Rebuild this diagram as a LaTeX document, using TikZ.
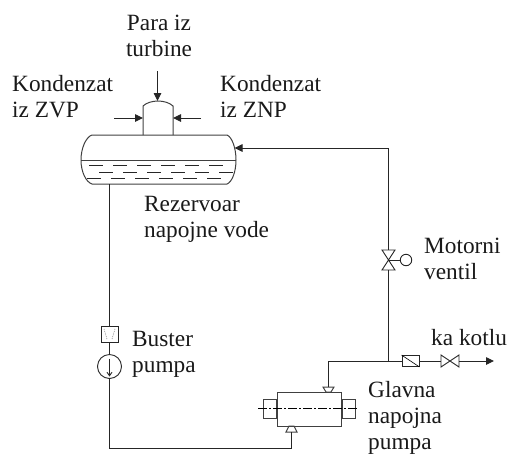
\documentclass[tikz,border=0pt]{standalone}
\usepackage{fontspec}
\setmainfont{Liberation Serif}
\usetikzlibrary{arrows.meta}
\tikzset{
 pipe/.style={line width=0.9pt,black!85},
 flow/.style={pipe,-{Triangle[length=8pt,width=7.5pt]}},
 shell/.style={line width=1pt,black!75},
 water/.style={line width=0.8pt,black!85,dash pattern=on 14pt off 10pt},
 lbl/.style={font=\fontsize{23.3pt}{26pt}\selectfont,align=left,anchor=north west,inner sep=0pt,text=black!90,execute at begin node={\rule{0pt}{17pt}}},
 clbl/.style={lbl,align=center,anchor=north},
}
\begin{document}
\begin{tikzpicture}[x=1pt,y=-1pt]
\useasboundingbox (0,0) rectangle (508,453);
% tank
\draw[shell] (92,135) -- (227,135) .. controls (232,137) and (236,148) .. (236,160) .. controls (236,172) and (232,182) .. (227,184) -- (92,184) .. controls (86,182) and (81,172) .. (81,160) .. controls (81,148) and (86,137) .. (92,135) -- cycle;
\draw[shell] (81,160) -- (236,160);
\draw[water] (89,165) -- (224,165);
\draw[water] (99,172) -- (234,172);
\draw[water] (87,178) -- (222,178);
% dome
\draw[shell] (143,135) -- (143,106) .. controls (146,103) and (152,101) .. (158,101) .. controls (164,101) and (170,103) .. (173,106) -- (173,135);
\coordinate (domeT) at (157.5,101);
\coordinate (domeL) at (143,118);
\coordinate (domeR) at (173,118);
\coordinate (inT) at (157.5,71);
\coordinate (inL) at (114,118);
\coordinate (inR) at (201,118);
\draw[flow] (inT) -- (domeT);
\draw[flow] (inL) -- (domeL);
\draw[flow] (inR) -- (domeR);
% left line
\node[draw,pipe,minimum width=17pt,minimum height=16pt,inner sep=0pt,fill=white] (filt) at (109.5,334) {};
\draw[pipe,densely dotted,line width=0.5pt,black!60] (104,329) -- (107,339) (115,329) -- (112,339);
\node[circle,draw,pipe,minimum size=24pt,inner sep=0pt] (bp) at (109.5,366.5) {};
\coordinate (tankB) at (109.5,184);
\draw[pipe] (tankB) -- (filt.north);
\draw[pipe] (filt.south) -- (bp.north);
\draw[pipe,-{Straight Barb[length=3.5pt,width=5pt]}] (bp.center)++(0,-8) -- ++(0,18);
% main pump
\node[draw,shell,minimum width=64pt,minimum height=34pt,inner sep=0pt] (gp) at (309,409) {};
\node[draw,shell,minimum width=13pt,minimum height=19pt,inner sep=0pt,anchor=east] (gl) at (gp.west) {};
\node[draw,shell,minimum width=13pt,minimum height=19pt,inner sep=0pt,anchor=west] (gr) at (gp.east) {};
\draw[line width=0.7pt,dash pattern=on 9pt off 2pt on 2pt off 2pt] (258,408) -- (358,408);
% suction
\coordinate (sIn) at (291.5,432);
\draw[shell] (286,432) -- (297,432) -- (294,426) -- (289,426) -- cycle;
\coordinate (c1) at (109.5,448);
\coordinate (c2) at (291.5,448);
\draw[pipe] (bp.south) -- (c1) -- (c2) -- (sIn);
% discharge
\coordinate (dIn) at (328.5,387);
\draw[shell] (323,387) -- (334,387) -- (331,392) -- (326,392) -- cycle;
\coordinate (c3) at (328.5,361);
\coordinate (jun) at (388,361);
\draw[pipe] (dIn) -- (c3) -- (jun);
% check valve
\node[draw,pipe,minimum width=17pt,minimum height=11pt,inner sep=0pt] (cv) at (410.5,361) {};
\draw[line width=0.6pt] (cv.north west) -- (cv.south east);
\draw[pipe] (jun) -- (cv.west);
% stop valve
\coordinate (v2) at (450,361);
\draw[pipe] (441,355) -- (459,367) -- (459,355) -- (441,367) -- cycle;
\draw[pipe] (cv.east) -- (441,361);
\coordinate (kaEnd) at (494,361);
\draw[flow] (459,361) -- (kaEnd);
% motor valve
\coordinate (mv) at (388,260);
\draw[pipe] (382,250) -- (395,250) -- (382,270) -- (395,270) -- cycle;
\node[circle,draw,pipe,minimum size=11.5pt,inner sep=0pt] (mc) at (406,260) {};
\draw[pipe] (mv) -- (mc.west);
\draw[pipe] (jun) -- (388,270);
\coordinate (c4) at (388,148);
\coordinate (tankR) at (234.5,148);
\draw[flow] (388,250) -- (c4) -- (tankR);
% labels
\node[clbl] (t1) at (159,15) {Para iz\\turbine};
\node[lbl] (t2) at (12,75) {Kondenzat\\iz ZVP};
\node[lbl] (t3) at (220,75) {Kondenzat\\iz ZNP};
\node[lbl] (t4) at (144,196) {Rezervoar\\napojne vode};
\node[lbl] (t5) at (424,238) {Motorni\\ventil};
\node[lbl] (t6) at (132,331) {Buster\\pumpa};
\node[lbl] (t7) at (431,328) {ka kotlu};
\node[lbl] (t8) at (368,381) {Glavna\\napojna\\pumpa};
\end{tikzpicture}
\end{document}
